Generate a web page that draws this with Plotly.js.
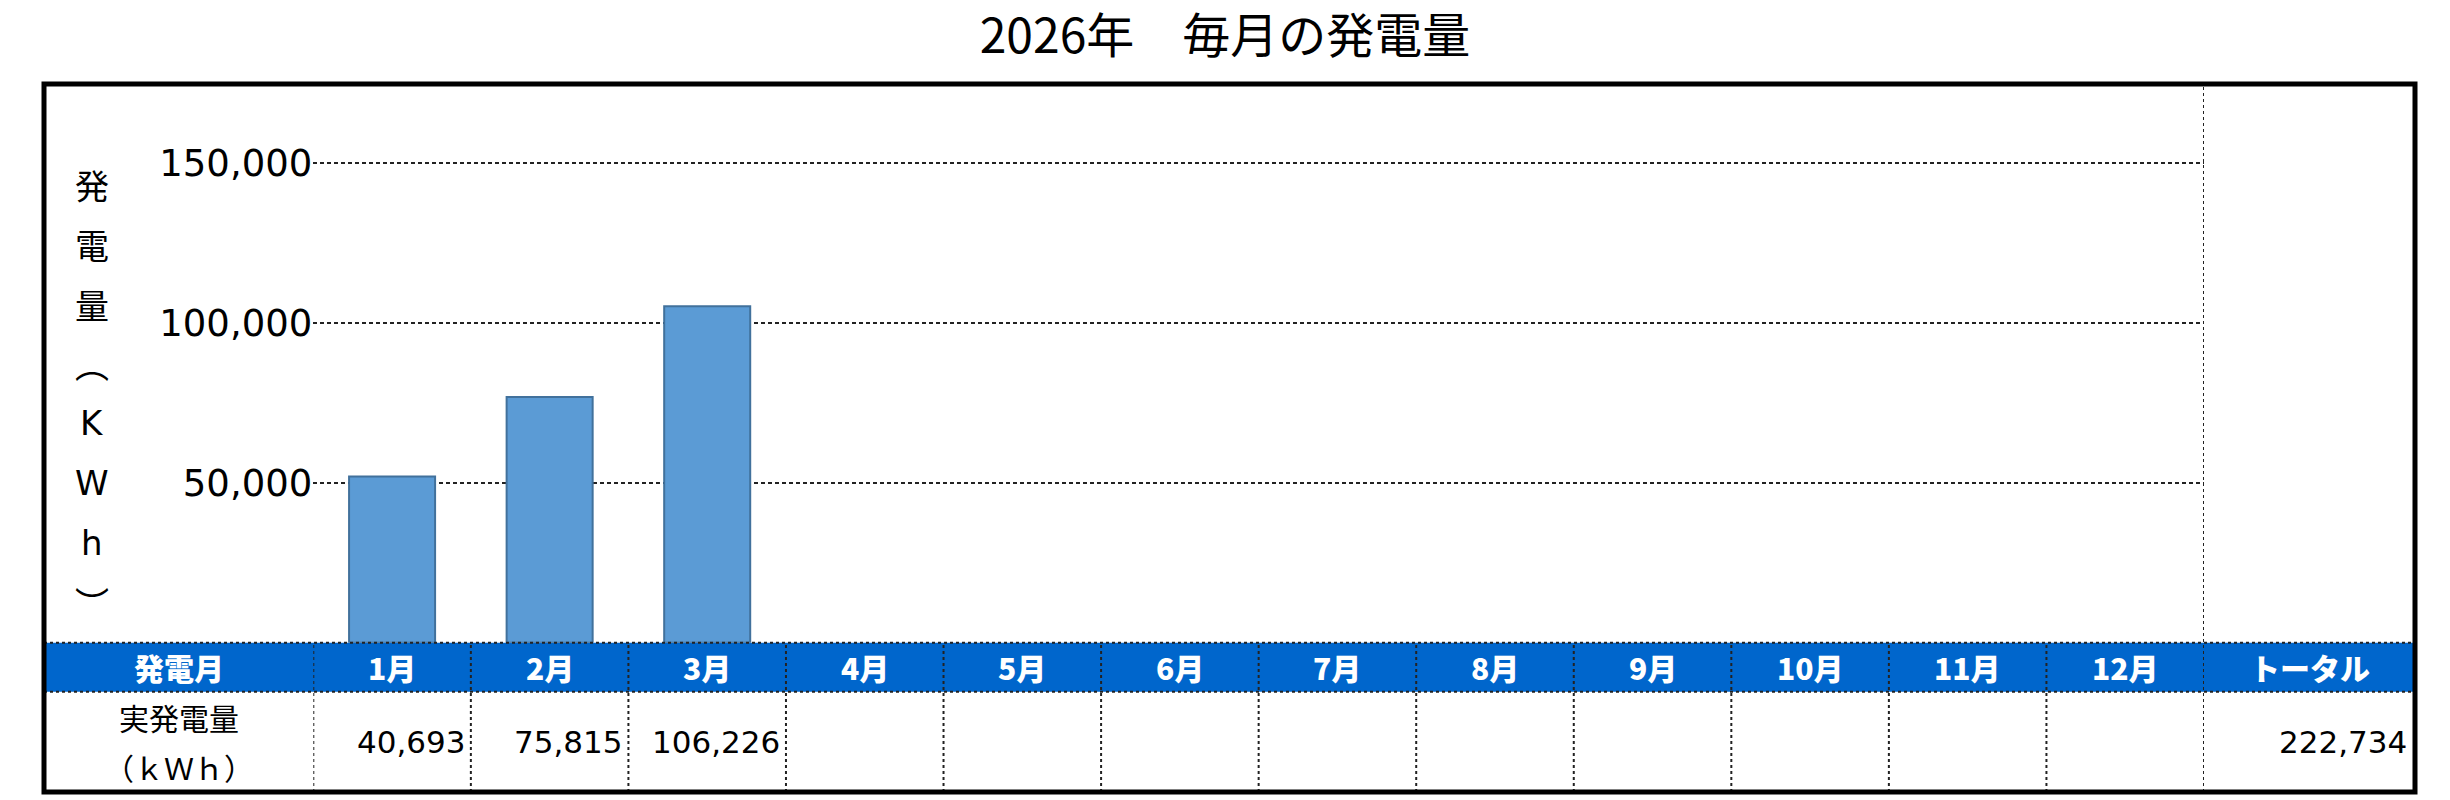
<!DOCTYPE html>
<html>
<head>
<meta charset="utf-8">
<script src="https://cdn.plot.ly/plotly-3.0.1.min.js"></script>
<style>
  html, body { margin: 0; padding: 0; background: #fff; }
  #chart { width: 2450px; height: 800px; }
</style>
</head>
<body>
<div id="chart"></div>
<script>
    "use strict";

    // data
    var months = ['1月', '2月', '3月', '4月', '5月', '6月', '7月', '8月', '9月', '10月', '11月', '12月'];
    var barValues = [52000, 76800, 105200];            // bar heights as drawn
    var actualValues = [40693, 75815, 106226];         // table row 実発電量
    var yTicks = [50000, 100000, 150000];
    var yTitleChars = ['発', '電', '量', '︵', 'K', 'W', 'h', '︶'];
    var headerLabel = '発電月';
    var totalLabel = 'トータル';
    var rowLabel = ['実発電量', '（ｋＷｈ）'];

    var W = 2450, H = 800;
    var M = { l: 0, r: 0, t: 70, b: 0 };
    // pixel -> paper coords (paper = area inside the margins)
    function px(x) { return (x - M.l) / (W - M.l - M.r); }
    function py(y) { return 1 - (y - M.t) / (H - M.t - M.b); }

    var jp = 'Noto Sans CJK JP, sans-serif';
    var num = 'DejaVu Sans, Verdana, sans-serif';

    var frame = { l: 44, r: 2415, t: 84, b: 792 };
    var plotL = 313.3, plotR = 2204;
    var bandTop = 642.7, bandBot = 691.7;

    var total = actualValues.reduce(function (a, b) { return a + b; }, 0);

    function fmt(n) {
        return n.toLocaleString('en-US');
    }

    var bars = {
        type: 'bar',
        x: months.slice(0, barValues.length),
        y: barValues,
        marker: {
            color: '#5B9BD5',
            line: { color: '#41719C', width: 2 }
        },
        hoverinfo: 'x+y'
    };

    var shapes = [];
    var annotations = [];

    // blue header band
    shapes.push({
        type: 'rect', xref: 'paper', yref: 'paper', layer: 'below',
        x0: px(frame.l), x1: px(frame.r), y0: py(bandBot), y1: py(bandTop),
        fillcolor: '#0066CC', line: { width: 0 }
    });
    [bandTop, bandBot].forEach(function (y) {
        shapes.push({
            type: 'line', xref: 'paper', yref: 'paper',
            x0: px(frame.l), x1: px(frame.r), y0: py(y), y1: py(y),
            line: { color: '#222', width: 2, dash: 'dot' }
        });
    });

    // column separators
    for (var k = 0; k <= months.length; k++) {
        shapes.push({
            type: 'line', xref: 'x', yref: 'paper',
            x0: k - 0.5, x1: k - 0.5,
            y0: py(frame.b), y1: py(k === months.length ? frame.t : bandTop),
            line: { color: '#222', width: 2, dash: 'dot' }
        });
    }

    // outer frame
    shapes.push({
        type: 'rect', xref: 'paper', yref: 'paper', layer: 'above',
        x0: px(frame.l), x1: px(frame.r), y0: py(frame.b), y1: py(frame.t),
        line: { color: '#000', width: 5 }
    });

    // header row
    var bandMid = (bandTop + bandBot) / 2;
    var headFont = { family: jp, size: 30, color: '#fff', weight: 900 };
    annotations.push({
        xref: 'paper', yref: 'paper', x: px((frame.l + plotL) / 2), y: py(bandMid),
        text: headerLabel, showarrow: false, font: headFont, xanchor: 'center', yanchor: 'middle'
    });
    months.forEach(function (m, i) {
        annotations.push({
            xref: 'x', yref: 'paper', x: i, y: py(bandMid),
            text: m, showarrow: false, font: headFont, xanchor: 'center', yanchor: 'middle'
        });
    });
    annotations.push({
        xref: 'paper', yref: 'paper', x: px((plotR + frame.r) / 2), y: py(bandMid),
        text: totalLabel, showarrow: false, font: headFont, xanchor: 'center', yanchor: 'middle'
    });

    // value row
    var rowMid = (bandBot + frame.b) / 2;
    var rowFont = { family: jp, size: 30, color: '#000' };
    annotations.push({
        xref: 'paper', yref: 'paper', x: px((frame.l + plotL) / 2), y: py(rowMid - 25),
        text: rowLabel[0], showarrow: false, font: rowFont, xanchor: 'center', yanchor: 'middle'
    });
    annotations.push({
        xref: 'paper', yref: 'paper', x: px((frame.l + plotL) / 2), y: py(rowMid + 25),
        text: rowLabel[1], showarrow: false, font: rowFont, xanchor: 'center', yanchor: 'middle'
    });
    var numFont = { family: num, size: 31, color: '#000' };
    actualValues.forEach(function (v, i) {
        annotations.push({
            xref: 'x', yref: 'paper', x: i + 0.5, y: py(rowMid),
            text: fmt(v), showarrow: false, font: numFont, xanchor: 'right', yanchor: 'middle', xshift: -4
        });
    });
    annotations.push({
        xref: 'paper', yref: 'paper', x: px(frame.r), y: py(rowMid),
        text: fmt(total), showarrow: false, font: numFont, xanchor: 'right', yanchor: 'middle', xshift: -6
    });

    // vertical y axis title, one char per line
    yTitleChars.forEach(function (c, i) {
        annotations.push({
            xref: 'paper', yref: 'paper', x: px(92), y: py(185 + i * 59.6),
            text: c, showarrow: false, xanchor: 'center', yanchor: 'middle',
            font: { family: /[A-Za-z]/.test(c) ? num : jp, size: 34, color: '#000' }
        });
    });

    var layout = {
        width: W,
        height: H,
        margin: M,
        paper_bgcolor: '#fff',
        plot_bgcolor: 'rgba(0,0,0,0)',
        showlegend: false,
        bargap: 0.454,
        title: {
            text: '2026年　毎月の発電量',
            font: { family: jp, size: 48, color: '#000' },
            x: 0.5, xanchor: 'center', xref: 'container',
            y: 1 - 36 / H, yanchor: 'middle', yref: 'container'
        },
        xaxis: {
            type: 'category',
            categoryorder: 'array',
            categoryarray: months,
            range: [-0.5, months.length - 0.5],
            domain: [px(plotL), px(plotR)],
            showgrid: false,
            zeroline: false,
            showline: false,
            showticklabels: false,
            ticks: '',
            fixedrange: true
        },
        yaxis: {
            range: [0, 174700],
            domain: [py(bandTop), py(frame.t)],
            tickvals: yTicks,
            tickformat: ',d',
            tickfont: { family: num, size: 37, color: '#000' },
            ticks: '',
            ticklen: 0,
            showgrid: true,
            gridcolor: '#222',
            gridwidth: 2,
            griddash: '4px,3px',
            zeroline: false,
            showline: false,
            fixedrange: true
        },
        shapes: shapes,
        annotations: annotations
    };

    Plotly.newPlot('chart', [bars], layout, { staticPlot: true, displayModeBar: false });
</script>
</body>
</html>
